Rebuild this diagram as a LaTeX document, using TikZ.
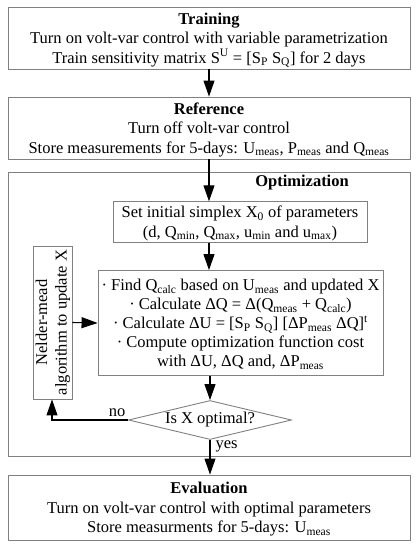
\documentclass[tikz,border=0pt]{standalone}
\usepackage{fontspec}
\setmainfont{Liberation Serif}
\usetikzlibrary{shapes.geometric,arrows.meta}
\definecolor{boxgray}{RGB}{128,128,128}
\newcommand{\sbs}[1]{\textsubscript{#1}}
\newcommand{\topstrut}{\rule{0pt}{16pt}}
\newcommand{\botstrut}{\rule[-5pt]{0pt}{5pt}}
\begin{document}
\begin{tikzpicture}[x=1pt,y=-1pt,
  every node/.style={font=\fontsize{16.5}{19.5}\selectfont, inner sep=0pt, align=center},
  box/.style={draw=boxgray, line width=0.9pt, rectangle},
  dia/.style={draw=boxgray, line width=0.9pt, diamond, aspect=4.2},
  arr/.style={draw=black, line width=1.1pt, -{Triangle[length=16pt,width=11pt]}},
  lbl/.style={font=\fontsize{16.5}{19.5}\selectfont}]
\useasboundingbox (0,0) rectangle (420,550);
% outer boxes
\node[box, minimum width=402pt, minimum height=62pt] (train) at (209,38)
  {\topstrut\textbf{Training}\\Turn on volt-var control with variable parametrization\\Train sensitivity matrix S\textsuperscript{U} = [S\sbs{P} S\sbs{Q}] for 2 days\botstrut};
\node[box, minimum width=402pt, minimum height=62pt] (ref) at (209,128)
  {\topstrut\textbf{Reference}\\Turn off volt-var control\\Store measurements for 5-days: U\sbs{meas}, P\sbs{meas} and Q\sbs{meas}\botstrut};
\node[box, minimum width=402pt, minimum height=284pt] (opt) at (209,314) {};
\node[anchor=center, font=\fontsize{16.5}{19.5}\selectfont\bfseries] (opttitle) at (302,183) {Optimization};
\node[box, minimum width=254pt, minimum height=40pt] (simplex) at (240,222)
  {\topstrut Set initial simplex X\sbs{0} of parameters\\(d, Q\sbs{min}, Q\sbs{max}, u\sbs{min} and u\sbs{max})\botstrut};
\node[box, minimum width=285pt, minimum height=105pt, font=\fontsize{16.5}{19}\selectfont] (main) at (240.5,323)
  {\topstrut· Find Q\sbs{calc} based on U\sbs{meas} and updated X\\
   · Calculate ΔQ = Δ(Q\sbs{meas} + Q\sbs{calc})\\
   · Calculate ΔU = [S\sbs{P} S\sbs{Q}] [ΔP\sbs{meas} ΔQ]\textsuperscript{t}\\
   · Compute optimization function cost\\
   with ΔU, ΔQ and, ΔP\sbs{meas}\botstrut};
\node[box, minimum width=39pt, minimum height=153pt] (nelder) at (52.5,322.5) {};
\node[rotate=90] (neldertext) at (53,322.5) {Nelder-mead\\algorithm to update X};
\node[dia, minimum width=163pt, minimum height=39pt] (decide) at (210,420) {Is X optimal?};
\node[box, minimum width=402pt, minimum height=65pt] (eval) at (209,507.5)
  {\topstrut\textbf{Evaluation}\\Turn on volt-var control with optimal parameters\\Store measurments for 5-days: U\sbs{meas}\botstrut};
% spine
\coordinate (spine) at (209,0);
\coordinate (back) at (52,420);
% connectors
\draw[arr] (train.south -| spine) -- (ref.north -| spine);
\draw[arr] (ref.south -| spine) -- (simplex.north -| spine);
\draw[arr] (simplex.south -| spine) -- (main.north -| spine);
\draw[arr] (main.south -| decide) -- (decide.north);
\draw[arr] (decide.south) -- (eval.north -| decide) node[pos=0.2, right=5pt, lbl] {yes};
\draw[arr] (decide.west) -- (back) -- (nelder.south -| back);
\node[lbl, anchor=south] (nolbl) at (117,417) {no};
\draw[arr] (nelder.east) -- (main.west);
\end{tikzpicture}
\end{document}
